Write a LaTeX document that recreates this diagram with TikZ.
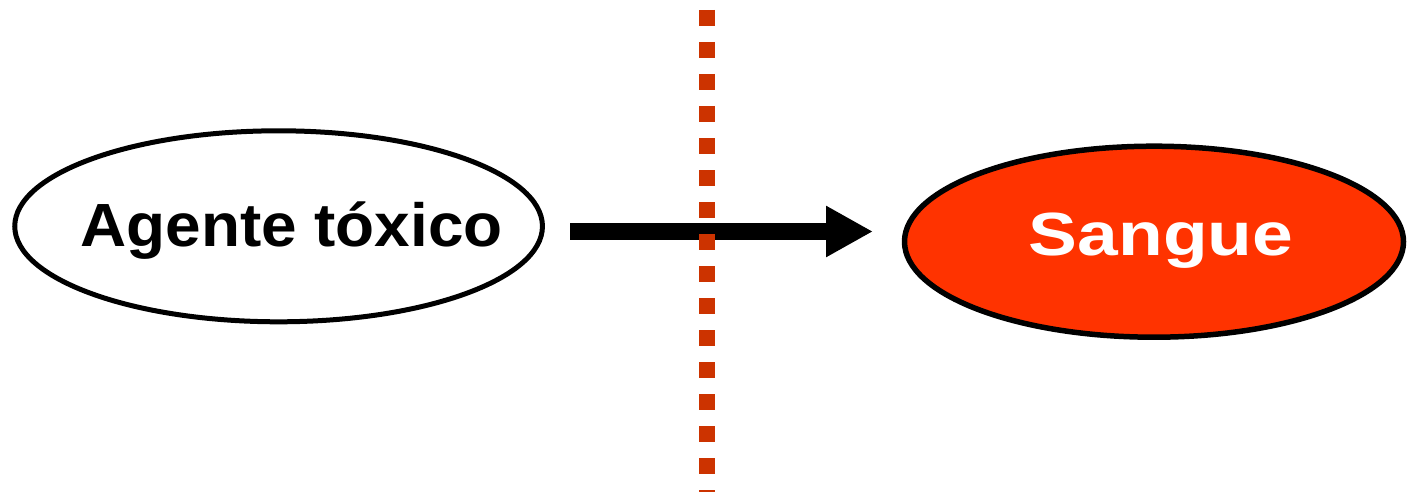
\documentclass[tikz,border=0pt]{standalone}
\usepackage{fontspec}
\setmainfont{Liberation Sans}
\usetikzlibrary{arrows.meta,shapes.geometric}
\definecolor{bloodred}{HTML}{FF3300}
\definecolor{barrier}{HTML}{CC3300}
\tikzset{
  organ/.style={ellipse, draw=black, inner sep=0pt},
  lbl/.style={font=\fontsize{61}{61}\selectfont\bfseries, inner sep=0pt, anchor=base},
  flow/.style={line width=17pt, -{Triangle[length=47pt,width=48pt]}},
  wall/.style={barrier, line width=16pt, dash pattern=on 16pt off 16pt}
}
\begin{document}
\begin{tikzpicture}[x=1pt,y=-1pt]
\clip (0,0) rectangle (1407,492);
\fill[white] (0,0) rectangle (1407,492);
\node[organ, line width=5pt, minimum width=527.7pt, minimum height=191pt] (agente) at (278.6,226.3) {};
\node[organ, line width=5.5pt, fill=bloodred, minimum width=499pt, minimum height=191pt] (sangue) at (1154,241.7) {};
\node[lbl, text=black] (tagente) at (291.5,246) {\scalebox{1.047}[1]{Agente tóxico}};
\node[lbl, text=white] (tsangue) at (1161,255) {\scalebox{1.2}[1]{Sangue}};
\coordinate (a1) at (570,231.5);
\coordinate (a2) at (873,231.5);
\draw[flow] (a1) -- (a2);
\coordinate (w1) at (707,10);
\coordinate (w2) at (707,510);
\draw[wall] (w1) -- (w2);
\end{tikzpicture}
\end{document}
